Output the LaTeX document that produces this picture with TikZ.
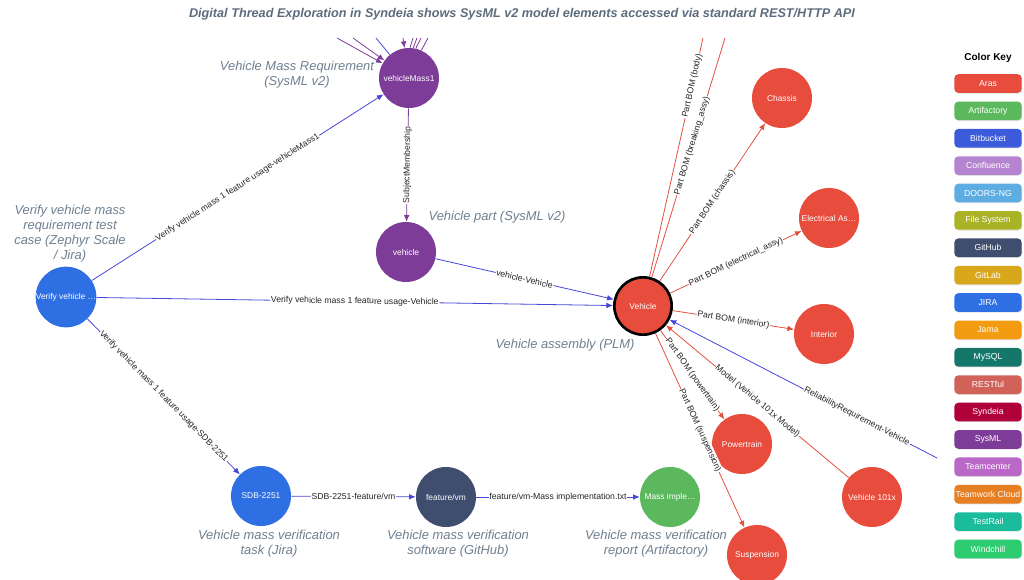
\documentclass[tikz,border=0pt]{standalone}
\usepackage{fontspec}
\setmainfont{Liberation Sans}
\usepackage{xcolor}
\usetikzlibrary{arrows.meta,shadows}
\definecolor{cAras}{HTML}{E74C3C}
\definecolor{cArtifactory}{HTML}{5CB85C}
\definecolor{cBitbucket}{HTML}{3B5BDB}
\definecolor{cConfluence}{HTML}{B584D0}
\definecolor{cDoors}{HTML}{5DADE2}
\definecolor{cFileSystem}{HTML}{AAB325}
\definecolor{cGitHub}{HTML}{3F4E6E}
\definecolor{cGitLab}{HTML}{D9A71C}
\definecolor{cJira}{HTML}{2F6FE4}
\definecolor{cJama}{HTML}{F39C12}
\definecolor{cMySQL}{HTML}{15776A}
\definecolor{cRESTful}{HTML}{D0625A}
\definecolor{cSyndeia}{HTML}{B0003A}
\definecolor{cSysML}{HTML}{7D3C98}
\definecolor{cTeamcenter}{HTML}{BA68C8}
\definecolor{cTeamwork}{HTML}{E67E22}
\definecolor{cTestRail}{HTML}{1ABC9C}
\definecolor{cWindchill}{HTML}{2ECC71}
\definecolor{edgeblue}{HTML}{4646D8}
\definecolor{edgered}{HTML}{E2503F}
\definecolor{notegray}{HTML}{6E7F8F}
\definecolor{titlegray}{HTML}{5C6C7C}

\begin{document}
\begin{tikzpicture}[x=0.75pt,y=-0.75pt,>={Latex[length=5pt,width=4.2pt]},line join=round,
  obj/.style={circle,minimum size=45pt,inner sep=0pt,text=white,font=\fontsize{6.3}{7}\selectfont},
  lbl/.style={font=\fontsize{6.5}{7.5}\selectfont,fill=white,inner sep=0.5pt,sloped,text=black!85},
  note/.style={font=\fontsize{9.7}{11.3}\selectfont\itshape,text=notegray,align=center},
  eblue/.style={draw=edgeblue,line width=0.6pt},
  ered/.style={draw=edgered,line width=0.6pt},
  epurple/.style={draw=cSysML,line width=0.6pt},
  keybox/.style={rounded corners=3pt,minimum width=50.5pt,minimum height=14pt,inner sep=0pt,
    text=white,font=\fontsize{6.5}{7}\selectfont,
    drop shadow={opacity=0.25,shadow xshift=0.4pt,shadow yshift=-0.6pt}}]
  \useasboundingbox (0,0) rectangle (1024,579);
  \clip (0,0) rectangle (1024,579);
  \node[font=\fontsize{9.5}{11}\selectfont\bfseries\itshape,text=titlegray] (TITLE) at (522,14)
    {Digital Thread Exploration in Syndeia shows SysML v2 model elements accessed via standard REST/HTTP API};

  \node[obj,fill=cSysML] (VM) at (409,78) {vehicleMass1};
  \node[obj,fill=cSysML] (VP) at (406,252) {vehicle};
  \node[obj,fill=cJira] (VT) at (66,297) {Verify vehicle \dots};
  \node[obj,fill=cAras,draw=black,line width=2pt,minimum size=43pt] (VA) at (643,306) {Vehicle};
  \node[obj,fill=cAras] (CH) at (782,98) {Chassis};
  \node[obj,fill=cAras] (EL) at (829,218) {Electrical As\dots};
  \node[obj,fill=cAras] (IN) at (824,334) {Interior};
  \node[obj,fill=cAras] (PT) at (742,444) {Powertrain};
  \node[obj,fill=cAras] (VX) at (872,497) {Vehicle 101x};
  \node[obj,fill=cAras] (SU) at (757,555) {Suspension};
  \node[obj,fill=cJira] (SDB) at (261,496) {SDB-2251};
  \node[obj,fill=cGitHub] (FVM) at (446,497) {feature/vm};
  \node[obj,fill=cArtifactory] (MI) at (670,497) {Mass imple\dots};

  \coordinate (T1) at (337,38);
  \coordinate (T2) at (353,38);
  \coordinate (T3) at (376,38);
  \coordinate (T4) at (403,38);
  \coordinate (T5) at (413,38);
  \coordinate (T6) at (417,38);
  \coordinate (T7) at (421,38);
  \coordinate (T8) at (428,38);
  \coordinate (TB) at (703,38);
  \coordinate (TK) at (725,38);
  \coordinate (TR) at (937,458);

  \draw[epurple,->] (T1) -- (VM);
  \draw[epurple,->] (T2) -- (VM);
  \draw[eblue] (VM) -- (T3);
  \draw[epurple,->] (T4) -- (VM);
  \draw[epurple] (VM.88) -- (T5);
  \draw[epurple] (VM.82) -- (T6);
  \draw[epurple] (VM.77) -- (T7);
  \draw[epurple] (VM.66) -- (T8);

  \draw[eblue,->] (VT) -- node[lbl]{Verify vehicle mass 1 feature usage-vehicleMass1} (VM);
  \draw[eblue,->] (VT) -- node[lbl]{Verify vehicle mass 1 feature usage-Vehicle} (VA);
  \draw[eblue,->] (VT) -- node[lbl]{Verify vehicle mass 1 feature usage-SDB-2251} (SDB);
  \draw[epurple,->] (VM) -- node[lbl]{SubjectMembership} (VP);
  \draw[eblue,->] (VP) -- node[lbl]{vehicle-Vehicle} (VA);
  \draw[eblue,->] (SDB) -- node[lbl]{SDB-2251-feature/vm} (FVM);
  \draw[eblue,->] (FVM) -- node[lbl]{feature/vm-Mass implementation.txt} (MI);

  \draw[ered] (VA) -- node[lbl,pos=0.80]{Part BOM (body)} (TB);
  \draw[ered] (VA) -- node[lbl,pos=0.55]{Part BOM (breaking\_assy)} (TK);
  \draw[ered,->] (VA) -- node[lbl]{Part BOM (chassis)} (CH);
  \draw[ered,->] (VA) -- node[lbl]{Part BOM (electrical\_assy)} (EL);
  \draw[ered,->] (VA) -- node[lbl]{Part BOM (interior)} (IN);
  \draw[ered,->] (VA) -- node[lbl]{Part BOM (powertrain)} (PT);
  \draw[ered,->] (VA) -- node[lbl]{Part BOM (suspension)} (SU);
  \draw[ered,->] (VX) -- node[lbl]{Model (Vehicle 101x Model)} (VA);
  \draw[eblue,<-] (VA) -- node[lbl,pos=0.70]{ReliabilityRequirement-Vehicle} (TR);

  \node[note] (NVM) at (297,75) {Vehicle Mass Requirement\\(SysML v2)};
  \node[note] (NVT) at (70,234) {Verify vehicle mass\\requirement test\\case (Zephyr Scale\\/ Jira)};
  \node[note] (NVP) at (497,217) {Vehicle part (SysML v2)};
  \node[note] (NVA) at (565,345) {Vehicle assembly (PLM)};
  \node[note] (NSDB) at (269,544) {Vehicle mass verification\\task (Jira)};
  \node[note] (NFVM) at (458,544) {Vehicle mass verification\\software (GitHub)};
  \node[note] (NMI) at (656,544) {Vehicle mass verification\\report (Artifactory)};

  \node[font=\fontsize{7.5}{9}\selectfont\bfseries] (KEY) at (988,58) {Color Key};
  \foreach \c/\t [count=\i from 0] in {cAras/Aras,cArtifactory/Artifactory,cBitbucket/Bitbucket,
      cConfluence/Confluence,cDoors/DOORS-NG,cFileSystem/File System,cGitHub/GitHub,cGitLab/GitLab,
      cJira/JIRA,cJama/Jama,cMySQL/MySQL,cRESTful/RESTful,cSyndeia/Syndeia,cSysML/SysML,
      cTeamcenter/Teamcenter,cTeamwork/Teamwork Cloud,cTestRail/TestRail,cWindchill/Windchill}
    \node[keybox,fill=\c] (K\i) at (988,{83.5+27.38*\i}) {\t};
\end{tikzpicture}
\end{document}
